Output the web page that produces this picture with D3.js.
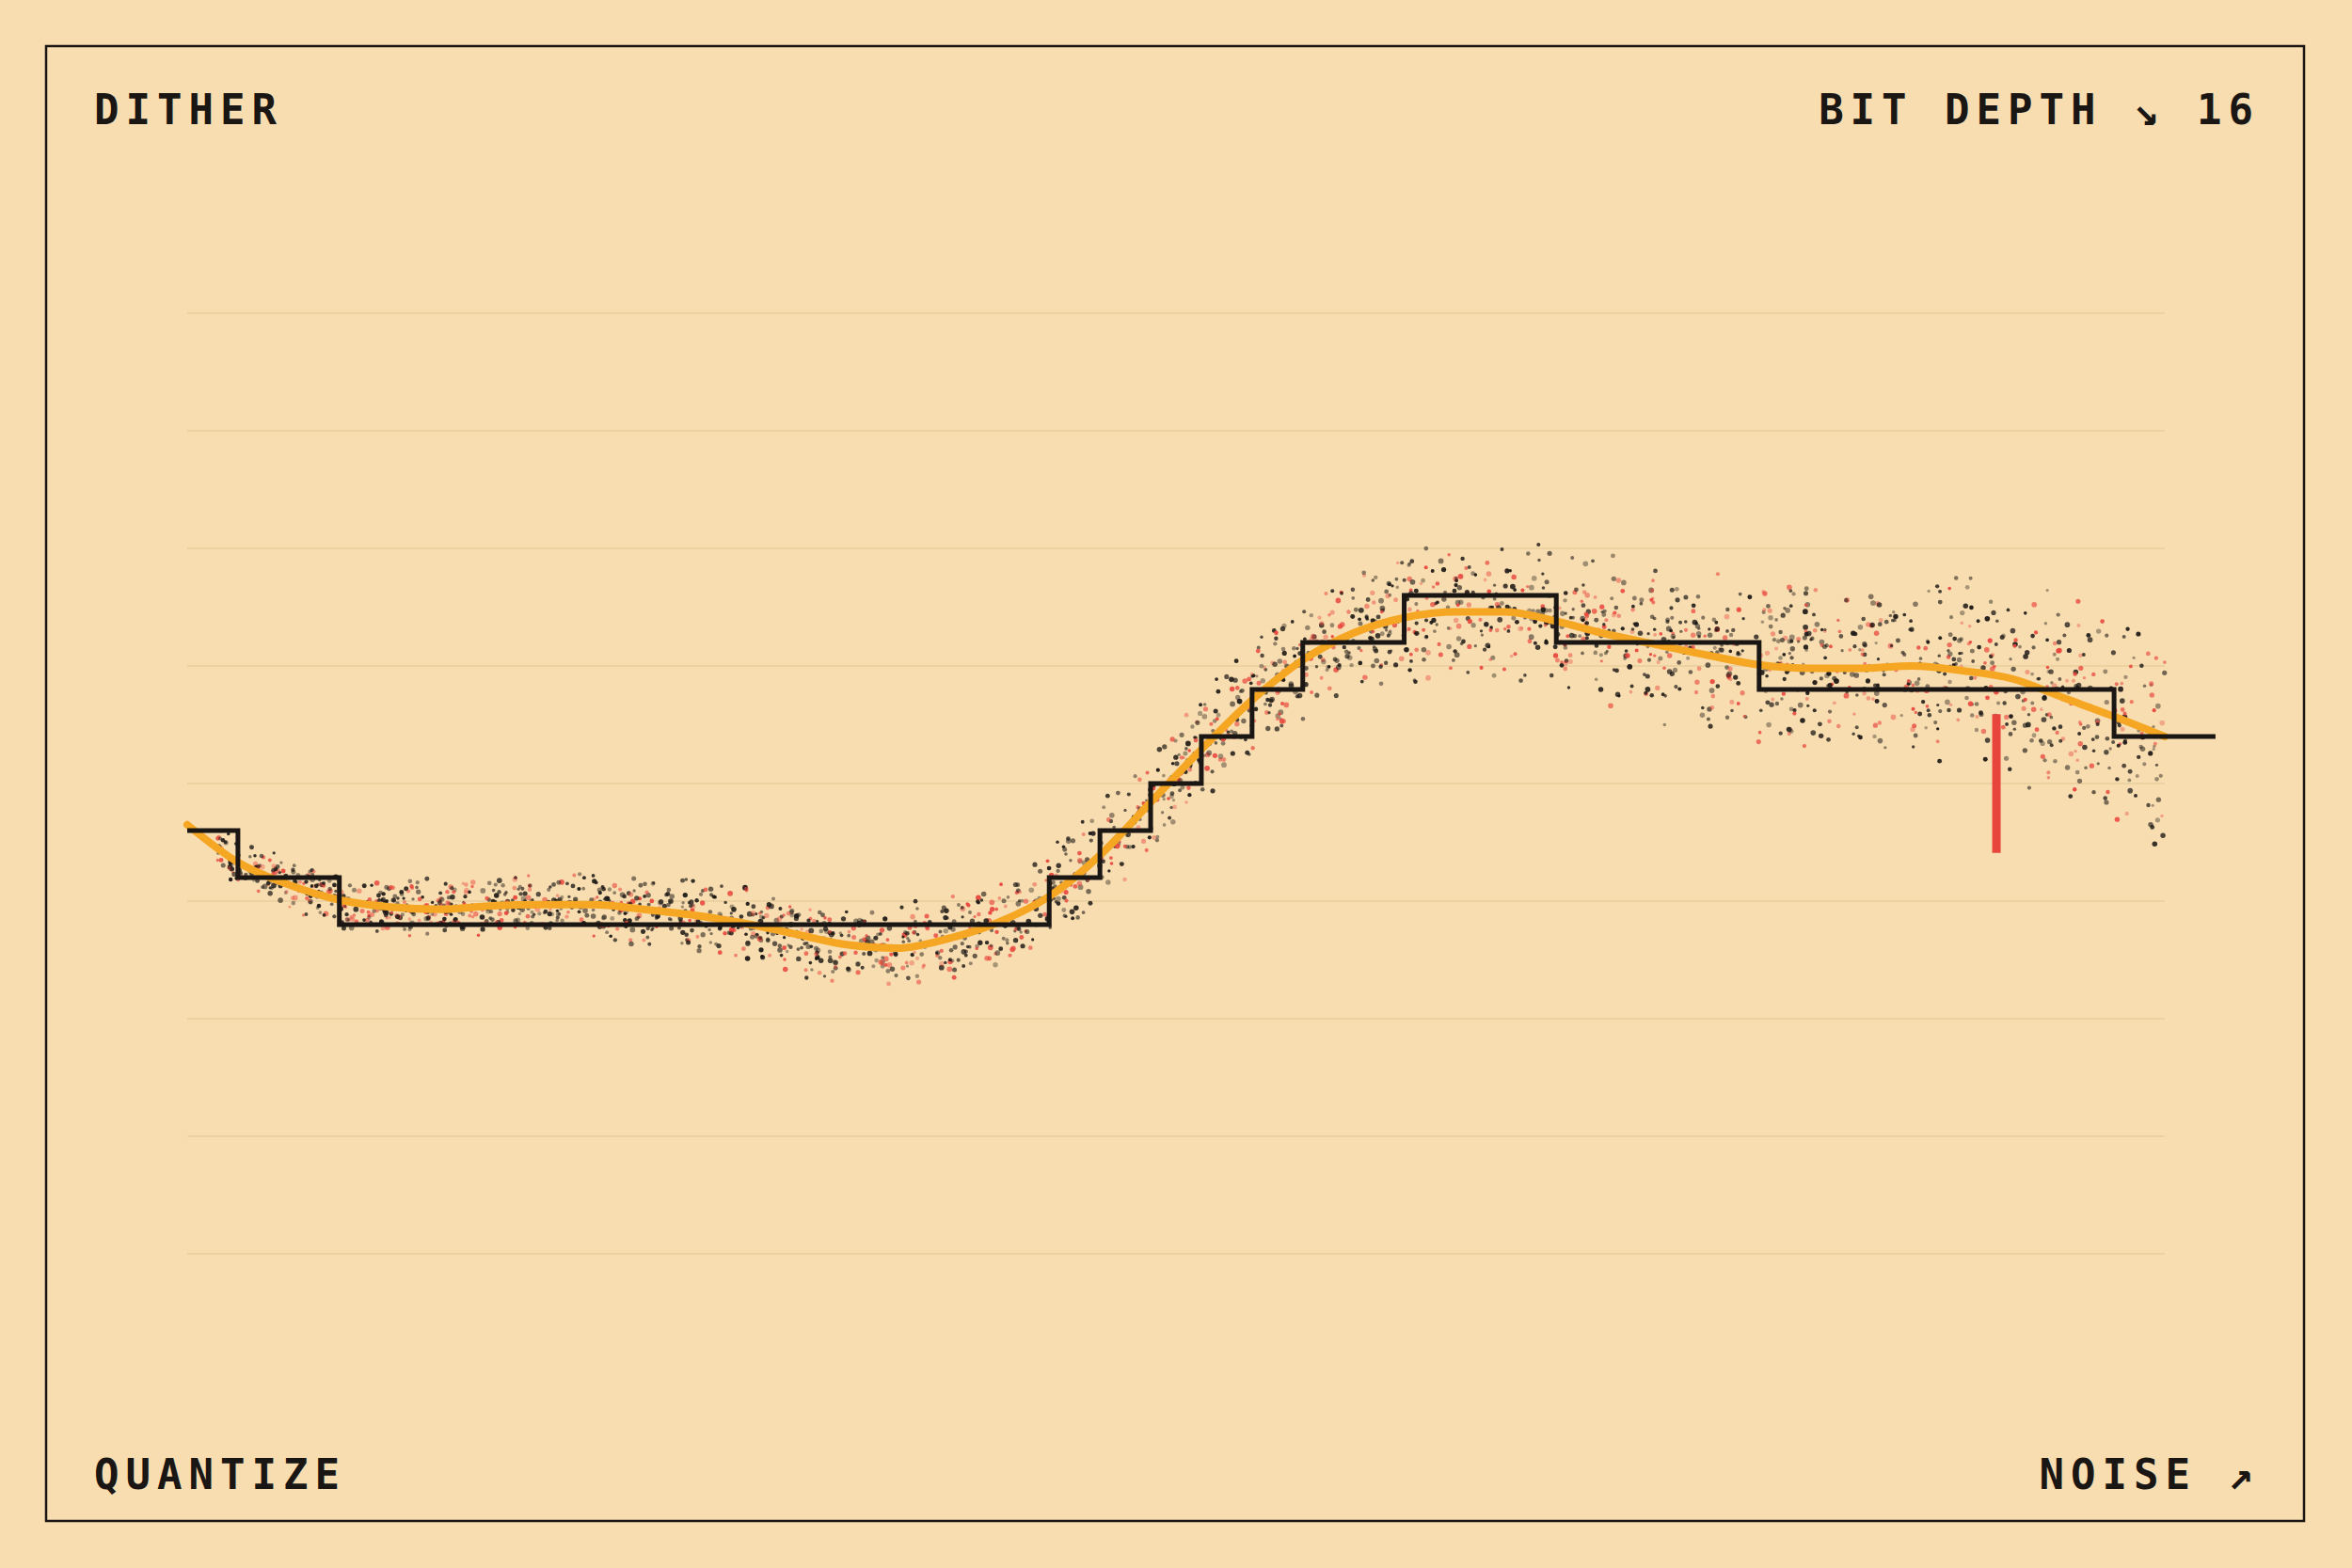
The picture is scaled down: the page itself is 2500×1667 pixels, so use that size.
<!DOCTYPE html>
<html>
<head>
<meta charset="utf-8">
<style>
  html,body{margin:0;padding:0;background:#f8ddb0;}
  text{font-family:"DejaVu Sans Mono",monospace;font-weight:bold;fill:#1a1614;letter-spacing:7px;}
</style>
</head>
<body>
<script src="https://cdn.jsdelivr.net/npm/d3@7"></script>
<script>
// smooth signal, sampled at x = 0..39
var signal=[3.65,3.33,3.14,3.01,2.95,2.93,2.96,2.97,2.97,2.93,2.88,2.81,2.72,2.63,2.60,2.68,2.82,3.04,3.39,3.84,
            4.29,4.71,5.05,5.28,5.41,5.46,5.46,5.38,5.27,5.18,5.09,5.01,4.98,4.98,5.00,4.96,4.89,4.73,4.57,4.40];
// quantized steps: [start, end, level]
var stepStart=[0,1,3,17,18,19,20,21,22,24,27,31,38];
var stepEnd  =[1,3,17,18,19,20,21,22,24,27,31,38,40];
var stepLevel=[3.6,3.2,2.8,3.2,3.6,4.0,4.4,4.8,5.2,5.6,5.2,4.8,4.4];
// noise spread around the signal (half width, grid units)
var spreadX=[0,10,20,26,32,36,39];
var spreadV=[0.22,0.32,0.5,0.66,0.78,0.88,1.1];
var gridValues=[0,1,2,3,4,5,6,7,8];
var marker={x:35.68,from:4.59,to:3.41};
var labels=[{t:"DITHER",x:100,y:132,a:"start"},{t:"BIT DEPTH \u2198 16",x:2402,y:132,a:"end"},
            {t:"QUANTIZE",x:100,y:1583,a:"start"},{t:"NOISE \u2197",x:2402,y:1583,a:"end"}];

var W=2500,H=1667;
var svg=d3.select("body").append("svg").attr("width",W).attr("height",H);
svg.append("rect").attr("width",W).attr("height",H).attr("fill","#f8ddb0");
svg.append("rect").attr("x",49).attr("y",49).attr("width",2400).attr("height",1568)
   .attr("fill","none").attr("stroke","#1a1614").attr("stroke-width",2.5);

var x=d3.scaleLinear().domain([0,39]).range([199,2301]);
var y=d3.scaleLinear().domain([0,8]).range([1333,333]);
var spread=d3.scaleLinear().domain(spreadX).range(spreadV);

svg.selectAll(".grid").data(gridValues).enter().append("line")
   .attr("x1",x(0)).attr("x2",x(39)).attr("y1",function(d){return y(d);}).attr("y2",function(d){return y(d);})
   .attr("stroke","#e9cc9c").attr("stroke-width",1.5);

// dither dots (seeded so the picture is stable)
var seed=7;
function rnd(){seed=(seed*16807)%2147483647;return (seed-1)/2147483646;}
var interp=d3.scaleLinear().domain(d3.range(signal.length)).range(signal);
var dots=[];
for(var i=0;i<2600;i++){
  var xv=0.6+rnd()*38.4;
  var s=spread(xv);
  var u=(rnd()*2-1)*0.6+(rnd()*2-1)*0.4;
  dots.push({x:xv,v:interp(xv)+u*s,red:rnd()<0.3,o:0.35+rnd()*0.6,r:1.6+rnd()*1.3});
}
svg.selectAll(".dot").data(dots).enter().append("circle")
   .attr("cx",function(d){return x(d.x);}).attr("cy",function(d){return y(d.v);})
   .attr("r",function(d){return d.r;})
   .attr("fill",function(d){return d.red?"#e8453c":"#1a1614";})
   .attr("opacity",function(d){return d.o;});

var line=d3.line().x(function(d,i){return x(i);}).y(function(d){return y(d);}).curve(d3.curveMonotoneX);
svg.append("path").datum(signal).attr("d",line).attr("fill","none")
   .attr("stroke","#f5a623").attr("stroke-width",8).attr("stroke-linecap","round");

var pts=[];
stepLevel.forEach(function(l,i){pts.push([stepStart[i],l]);pts.push([stepEnd[i],l]);});
svg.append("path").datum(pts)
   .attr("d",d3.line().x(function(d){return x(d[0]);}).y(function(d){return y(d[1]);}))
   .attr("fill","none").attr("stroke","#1a1614").attr("stroke-width",5);

svg.append("line").attr("x1",x(marker.x)).attr("x2",x(marker.x))
   .attr("y1",y(marker.from)).attr("y2",y(marker.to))
   .attr("stroke","#e8453c").attr("stroke-width",9);

svg.selectAll(".lab").data(labels).enter().append("text")
   .attr("x",function(d){return d.x;}).attr("y",function(d){return d.y;})
   .attr("text-anchor",function(d){return d.a;}).attr("font-size",44)
   .text(function(d){return d.t;});
</script>
</body>
</html>
